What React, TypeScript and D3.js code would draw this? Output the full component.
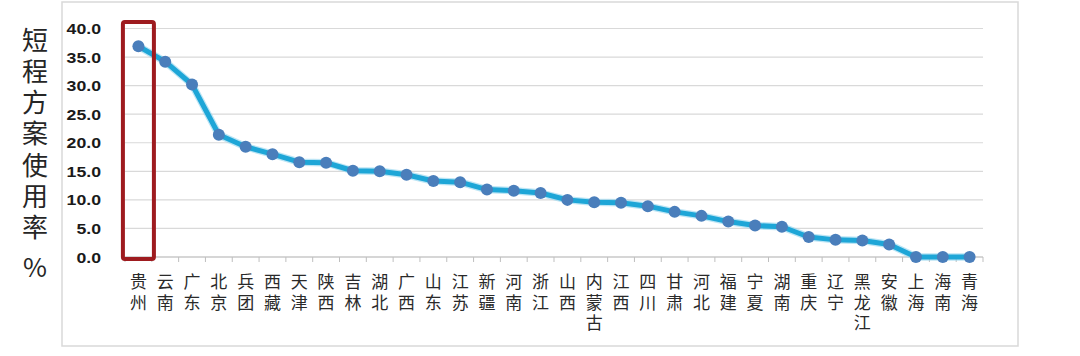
import React from "react";
import * as d3 from "d3";

const categories: string[] = [
  "贵州", "云南", "广东", "北京", "兵团", "西藏", "天津", "陕西", "吉林", "湖北", "广西", "山东",
  "江苏", "新疆", "河南", "浙江", "山西", "内蒙古", "江西", "四川", "甘肃", "河北", "福建", "宁夏",
  "湖南", "重庆", "辽宁", "黑龙江", "安徽", "上海", "海南", "青海",
];
const values: number[] = [
  36.9, 34.2, 30.2, 21.4, 19.3, 18.0, 16.6, 16.5, 15.1, 15.0, 14.4, 13.3,
  13.1, 11.8, 11.6, 11.2, 10.0, 9.6, 9.5, 8.9, 7.9, 7.2, 6.2, 5.5,
  5.3, 3.5, 3.0, 2.9, 2.2, 0.0, 0.0, 0.0,
];
const yTicks: number[] = [0, 5, 10, 15, 20, 25, 30, 35, 40];
const yTitleMain = "短程方案使用率";
const yTitleUnit = "%";

export default function App() {
  const W = 1080, H = 356;
  const left = 125, right = 983, top = 28.5, bottom = 257;
  const x = d3.scaleBand<string>().domain(categories).range([left, right]);
  const y = d3.scaleLinear().domain([0, 40]).range([bottom, top]);
  const bw = x.bandwidth();
  const cx = (i: number) => (x(categories[i]) as number) + bw / 2;
  const line = d3
    .line<number>()
    .x((_, i) => cx(i))
    .y((d) => y(d));
  const hx = cx(0);

  return (
    <svg
      width={W}
      height={H}
      style={{ position: "absolute", left: 0, top: 0, background: "#fff" }}
    >
      <rect x={62} y={2} width={956} height={344} fill="#fff" stroke="#d9d9d9" strokeWidth={1.5} />
      {yTicks.map((t) => (
        <line key={t} x1={left} x2={right} y1={y(t)} y2={y(t)} stroke="#d9d9d9" strokeWidth={1.2} />
      ))}
      <line x1={left} x2={right} y1={bottom} y2={bottom} stroke="#bfbfbf" strokeWidth={1.2} />
      {categories.map((k, i) => (
        <line
          key={"t" + i}
          x1={x(k) as number}
          x2={x(k) as number}
          y1={bottom}
          y2={bottom + 5}
          stroke="#bfbfbf"
          strokeWidth={1}
        />
      ))}
      <line x1={right} x2={right} y1={bottom} y2={bottom + 5} stroke="#bfbfbf" strokeWidth={1} />
      {yTicks.map((t) => (
        <text
          key={"l" + t}
          transform={`translate(101,${y(t) + 5.5}) scale(1.18,1)`}
          textAnchor="end"
          fontFamily="'Liberation Sans', Arial, sans-serif"
          fontWeight="bold"
          fontSize={15}
          fill="#1a1a1a"
        >
          {t.toFixed(1)}
        </text>
      ))}
      <text
        x={35}
        y={27}
        fontFamily="'Noto Sans CJK SC', sans-serif"
        fontSize={26}
        fill="#262626"
        style={{ writingMode: "vertical-rl", textOrientation: "upright", letterSpacing: "5.2px" }}
      >
        {yTitleMain}
      </text>
      <text
        x={35}
        y={277}
        textAnchor="middle"
        fontFamily="'Noto Sans CJK SC', sans-serif"
        fontSize={26}
        fill="#262626"
      >
        {yTitleUnit}
      </text>
      {categories.map((c, i) => (
        <text
          key={"c" + i}
          x={cx(i)}
          y={273.5}
          fontFamily="'Noto Sans CJK SC', sans-serif"
          fontWeight={400}
          fontSize={17}
          fill="#2a2a2a"
          style={{ writingMode: "vertical-rl", textOrientation: "upright", letterSpacing: "3.5px" }}
        >
          {c}
        </text>
      ))}
      <path d={line(values) || ""} fill="none" stroke="#8fd3ee" strokeWidth={7.5} strokeLinejoin="round" opacity={0.6} />
      <path d={line(values) || ""} fill="none" stroke="#1ea6d7" strokeWidth={5} strokeLinejoin="round" />
      {values.map((v, i) => (
        <circle key={"p" + i} cx={cx(i)} cy={y(v)} r={6} fill="#4a7ebb" />
      ))}
      <rect
        x={hx - 15.5}
        y={22}
        width={31}
        height={237}
        fill="none"
        stroke="#9e1b1f"
        strokeWidth={4}
        rx={2}
      />
    </svg>
  );
}
